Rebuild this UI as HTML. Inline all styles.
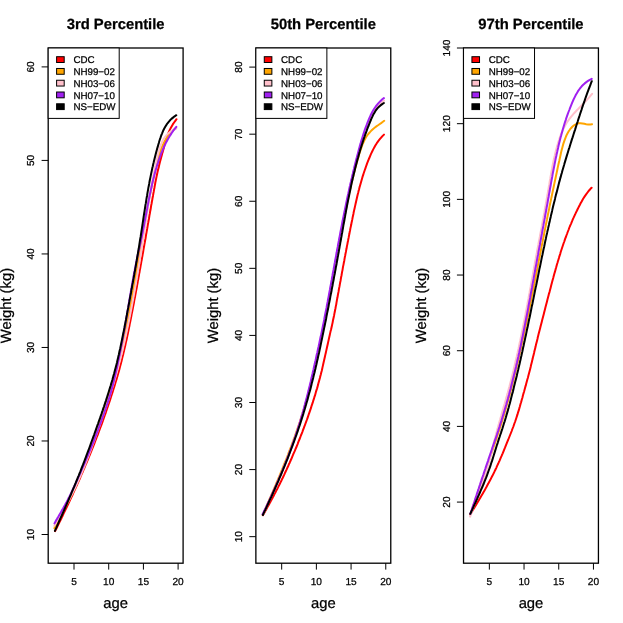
<!DOCTYPE html>
<html><head><meta charset="utf-8"><title>Weight percentiles</title>
<style>html,body{margin:0;padding:0;background:#fff}svg{display:block;will-change:transform}text{font-family:"Liberation Sans",sans-serif;fill:#000;text-rendering:geometricPrecision;stroke:#000;stroke-width:0.25px}</style></head><body>
<svg width="623" height="623" viewBox="0 0 623 623">
<g>
<path d="M55.1 531.1 L56.0 529.4 L56.9 527.6 L57.7 525.8 L58.6 524.1 L59.4 522.3 L60.3 520.5 L61.2 518.7 L62.0 517.0 L62.9 515.2 L63.7 513.4 L64.6 511.6 L65.4 509.8 L66.3 508.1 L67.1 506.3 L68.0 504.5 L68.8 502.7 L69.7 500.9 L70.5 499.1 L71.3 497.3 L72.2 495.5 L73.0 493.7 L73.8 491.9 L74.6 490.1 L75.4 488.3 L76.2 486.5 L77.1 484.7 L77.9 482.9 L78.7 481.1 L79.5 479.3 L80.3 477.5 L81.0 475.7 L81.8 473.8 L82.6 472.0 L83.4 470.2 L84.2 468.4 L84.9 466.6 L85.7 464.7 L86.5 462.9 L87.2 461.1 L88.0 459.3 L88.7 457.4 L89.5 455.6 L90.2 453.8 L91.0 451.9 L91.7 450.1 L92.4 448.3 L93.2 446.4 L93.9 444.6 L94.6 442.8 L95.3 440.9 L96.0 439.1 L96.7 437.2 L97.5 435.4 L98.2 433.5 L98.8 431.7 L99.5 429.9 L100.2 428.0 L100.9 426.1 L101.6 424.3 L102.3 422.4 L102.9 420.6 L103.6 418.7 L104.2 416.9 L104.9 415.0 L105.6 413.1 L106.2 411.3 L106.8 409.4 L107.5 407.5 L108.1 405.7 L108.7 403.8 L109.4 401.9 L110.0 400.1 L110.6 398.2 L111.2 396.3 L111.8 394.4 L112.4 392.6 L113.0 390.7 L113.6 388.8 L114.2 386.9 L114.8 385.0 L115.3 383.2 L115.9 381.3 L116.5 379.4 L117.0 377.5 L117.6 375.6 L118.1 373.7 L118.7 371.8 L119.2 369.9 L119.7 368.0 L120.2 366.1 L120.7 364.2 L121.2 362.3 L121.7 360.4 L122.1 358.5 L122.6 356.6 L123.1 354.7 L123.5 352.8 L124.0 350.9 L124.4 349.0 L124.9 347.1 L125.3 345.2 L125.7 343.3 L126.1 341.4 L126.6 339.5 L127.0 337.5 L127.4 335.6 L127.8 333.7 L128.2 331.8 L128.6 329.9 L129.0 327.9 L129.4 326.0 L129.7 324.1 L130.1 322.2 L130.5 320.2 L130.9 318.3 L131.3 316.4 L131.6 314.4 L132.0 312.5 L132.4 310.6 L132.8 308.6 L133.1 306.7 L133.5 304.8 L133.9 302.8 L134.2 300.9 L134.6 298.9 L135.0 297.0 L135.3 295.1 L135.7 293.1 L136.0 291.2 L136.4 289.2 L136.8 287.3 L137.1 285.3 L137.5 283.4 L137.8 281.4 L138.2 279.5 L138.5 277.5 L138.9 275.6 L139.2 273.6 L139.6 271.7 L139.9 269.7 L140.3 267.8 L140.6 265.8 L141.0 263.9 L141.3 261.9 L141.7 260.0 L142.0 258.0 L142.4 256.1 L142.7 254.1 L143.1 252.2 L143.4 250.2 L143.7 248.3 L144.1 246.3 L144.4 244.4 L144.8 242.4 L145.1 240.5 L145.5 238.5 L145.8 236.5 L146.1 234.6 L146.5 232.6 L146.8 230.7 L147.2 228.7 L147.5 226.8 L147.8 224.9 L148.2 222.9 L148.5 221.0 L148.9 219.0 L149.2 217.1 L149.5 215.1 L149.9 213.2 L150.2 211.2 L150.6 209.3 L150.9 207.3 L151.2 205.4 L151.6 203.5 L151.9 201.5 L152.3 199.6 L152.6 197.7 L153.0 195.7 L153.3 193.8 L153.7 191.9 L154.0 189.9 L154.4 188.0 L154.7 186.1 L155.1 184.1 L155.4 182.2 L155.8 180.3 L156.2 178.4 L156.6 176.4 L157.0 174.5 L157.4 172.6 L157.8 170.7 L158.3 168.8 L158.8 166.9 L159.2 165.0 L159.7 163.1 L160.2 161.1 L160.7 159.2 L161.2 157.3 L161.7 155.4 L162.2 153.5 L162.8 151.6 L163.3 149.8 L163.8 147.9 L164.3 146.0 L164.8 144.1 L165.3 142.2 L165.9 140.4 L166.4 138.5 L167.1 136.7 L167.7 134.8 L168.4 133.0 L169.2 131.2 L170.0 129.4 L170.9 127.7 L171.9 125.9 L172.9 124.2 L174.1 122.5 L175.3 120.8 L176.5 119.2" fill="none" stroke="#ff0000" stroke-width="2" stroke-linecap="round" stroke-linejoin="round"/>
<path d="M54.4 528.2 L55.3 526.5 L56.2 524.8 L57.1 523.1 L57.9 521.3 L58.8 519.6 L59.7 517.9 L60.6 516.2 L61.5 514.5 L62.4 512.8 L63.3 511.0 L64.2 509.3 L65.1 507.6 L66.0 505.8 L66.9 504.1 L67.8 502.4 L68.7 500.6 L69.6 498.9 L70.4 497.1 L71.3 495.4 L72.1 493.6 L72.9 491.9 L73.8 490.1 L74.5 488.4 L75.3 486.6 L76.1 484.9 L76.8 483.1 L77.6 481.3 L78.3 479.6 L79.0 477.8 L79.7 476.0 L80.4 474.3 L81.1 472.5 L81.8 470.7 L82.5 468.9 L83.2 467.2 L83.9 465.4 L84.6 463.6 L85.3 461.8 L86.0 460.0 L86.7 458.2 L87.4 456.4 L88.1 454.6 L88.8 452.8 L89.5 451.0 L90.2 449.2 L90.9 447.4 L91.6 445.6 L92.2 443.8 L92.9 442.0 L93.6 440.2 L94.3 438.4 L94.9 436.6 L95.6 434.8 L96.3 433.0 L96.9 431.1 L97.6 429.3 L98.3 427.5 L98.9 425.7 L99.6 423.9 L100.2 422.0 L100.8 420.2 L101.5 418.4 L102.1 416.5 L102.7 414.7 L103.4 412.9 L104.0 411.0 L104.6 409.2 L105.2 407.4 L105.8 405.5 L106.4 403.7 L107.0 401.8 L107.6 400.0 L108.2 398.2 L108.8 396.3 L109.3 394.5 L109.9 392.6 L110.5 390.8 L111.0 388.9 L111.6 387.1 L112.1 385.2 L112.7 383.4 L113.2 381.5 L113.7 379.6 L114.2 377.8 L114.7 375.9 L115.3 374.1 L115.8 372.2 L116.3 370.3 L116.7 368.5 L117.2 366.6 L117.7 364.7 L118.2 362.9 L118.7 361.0 L119.1 359.1 L119.6 357.3 L120.0 355.4 L120.5 353.5 L120.9 351.7 L121.4 349.8 L121.8 347.9 L122.2 346.0 L122.7 344.1 L123.1 342.3 L123.5 340.4 L123.9 338.5 L124.3 336.6 L124.8 334.8 L125.2 332.9 L125.6 331.0 L125.9 329.1 L126.3 327.2 L126.7 325.3 L127.1 323.5 L127.5 321.6 L127.9 319.7 L128.2 317.8 L128.6 315.9 L129.0 314.0 L129.3 312.1 L129.7 310.2 L130.1 308.3 L130.4 306.5 L130.8 304.6 L131.1 302.7 L131.5 300.8 L131.8 298.9 L132.1 297.0 L132.5 295.1 L132.8 293.2 L133.2 291.3 L133.5 289.4 L133.8 287.5 L134.2 285.6 L134.5 283.7 L134.8 281.8 L135.1 279.9 L135.5 278.0 L135.8 276.1 L136.1 274.2 L136.4 272.3 L136.7 270.4 L137.1 268.5 L137.4 266.6 L137.7 264.8 L138.0 262.9 L138.3 260.9 L138.6 259.0 L139.0 257.1 L139.3 255.2 L139.6 253.3 L139.9 251.4 L140.2 249.5 L140.6 247.6 L140.9 245.7 L141.2 243.8 L141.5 241.9 L141.8 240.0 L142.2 238.1 L142.5 236.2 L142.8 234.3 L143.1 232.4 L143.5 230.5 L143.8 228.6 L144.1 226.7 L144.4 224.8 L144.8 222.9 L145.1 221.0 L145.5 219.1 L145.8 217.2 L146.1 215.3 L146.5 213.4 L146.8 211.5 L147.2 209.6 L147.5 207.7 L147.9 205.8 L148.2 203.9 L148.6 202.0 L149.0 200.0 L149.3 198.1 L149.7 196.2 L150.1 194.3 L150.5 192.4 L150.8 190.5 L151.2 188.6 L151.6 186.7 L152.0 184.8 L152.4 182.9 L152.8 181.0 L153.2 179.1 L153.6 177.2 L154.0 175.3 L154.5 173.4 L154.9 171.5 L155.3 169.6 L155.7 167.7 L156.2 165.8 L156.6 163.9 L157.1 162.0 L157.6 160.1 L158.1 158.3 L158.6 156.4 L159.2 154.6 L159.8 152.7 L160.4 150.9 L161.0 149.1 L161.7 147.4 L162.5 145.7 L163.3 144.0 L164.1 142.3 L165.0 140.6 L166.0 139.0 L167.0 137.5 L168.1 136.0 L169.3 134.5 L170.5 133.1 L171.8 131.7 L173.2 130.3 L174.6 129.1 L176.2 127.8" fill="none" stroke="#ffa500" stroke-width="2" stroke-linecap="round" stroke-linejoin="round"/>
<path d="M54.3 525.8 L55.3 524.1 L56.2 522.5 L57.2 520.8 L58.2 519.1 L59.1 517.5 L60.1 515.8 L61.1 514.1 L62.1 512.4 L63.1 510.7 L64.1 509.0 L65.0 507.3 L66.0 505.6 L66.9 503.9 L67.8 502.2 L68.8 500.5 L69.7 498.8 L70.5 497.0 L71.4 495.3 L72.3 493.6 L73.1 491.9 L74.0 490.1 L74.8 488.4 L75.6 486.7 L76.4 484.9 L77.2 483.2 L78.0 481.4 L78.8 479.7 L79.5 477.9 L80.3 476.2 L81.1 474.4 L81.8 472.7 L82.5 470.9 L83.3 469.1 L84.0 467.4 L84.7 465.6 L85.4 463.8 L86.1 462.0 L86.8 460.3 L87.5 458.5 L88.2 456.7 L88.9 454.9 L89.5 453.1 L90.2 451.3 L90.9 449.6 L91.6 447.8 L92.2 446.0 L92.9 444.2 L93.5 442.4 L94.2 440.6 L94.9 438.8 L95.5 437.0 L96.2 435.2 L96.8 433.4 L97.5 431.5 L98.1 429.7 L98.8 427.9 L99.4 426.1 L100.1 424.3 L100.7 422.5 L101.4 420.7 L102.0 418.8 L102.6 417.0 L103.3 415.2 L103.9 413.4 L104.5 411.5 L105.1 409.7 L105.8 407.9 L106.4 406.1 L107.0 404.2 L107.6 402.4 L108.2 400.6 L108.8 398.7 L109.4 396.9 L110.0 395.0 L110.6 393.2 L111.1 391.4 L111.7 389.5 L112.3 387.7 L112.9 385.8 L113.4 384.0 L114.0 382.1 L114.5 380.3 L115.0 378.4 L115.6 376.6 L116.1 374.7 L116.6 372.9 L117.1 371.0 L117.7 369.1 L118.2 367.3 L118.6 365.4 L119.1 363.6 L119.6 361.7 L120.1 359.8 L120.6 358.0 L121.0 356.1 L121.5 354.2 L122.0 352.4 L122.4 350.5 L122.9 348.6 L123.3 346.8 L123.7 344.9 L124.2 343.0 L124.6 341.2 L125.0 339.3 L125.4 337.4 L125.8 335.5 L126.2 333.7 L126.6 331.8 L127.0 329.9 L127.4 328.0 L127.8 326.1 L128.2 324.3 L128.6 322.4 L129.0 320.5 L129.4 318.6 L129.7 316.7 L130.1 314.8 L130.5 313.0 L130.8 311.1 L131.2 309.2 L131.6 307.3 L131.9 305.4 L132.3 303.5 L132.6 301.6 L133.0 299.8 L133.3 297.9 L133.6 296.0 L134.0 294.1 L134.3 292.2 L134.7 290.3 L135.0 288.4 L135.3 286.5 L135.7 284.6 L136.0 282.7 L136.3 280.8 L136.6 278.9 L137.0 277.0 L137.3 275.1 L137.6 273.3 L137.9 271.4 L138.2 269.5 L138.6 267.6 L138.9 265.7 L139.2 263.8 L139.5 261.9 L139.8 260.0 L140.1 258.1 L140.4 256.2 L140.7 254.3 L141.0 252.4 L141.3 250.5 L141.6 248.6 L141.9 246.7 L142.2 244.8 L142.5 242.9 L142.8 241.0 L143.1 239.1 L143.4 237.2 L143.7 235.3 L144.0 233.4 L144.3 231.5 L144.6 229.6 L144.9 227.7 L145.2 225.8 L145.5 223.9 L145.7 222.0 L146.0 220.1 L146.3 218.2 L146.6 216.3 L146.9 214.4 L147.2 212.5 L147.5 210.6 L147.8 208.7 L148.0 206.8 L148.3 204.9 L148.6 203.0 L148.9 201.1 L149.2 199.2 L149.5 197.3 L149.8 195.4 L150.1 193.5 L150.5 191.6 L150.8 189.7 L151.1 187.8 L151.4 185.9 L151.8 184.0 L152.1 182.1 L152.5 180.2 L152.8 178.3 L153.2 176.4 L153.5 174.5 L153.9 172.6 L154.3 170.7 L154.7 168.8 L155.1 166.9 L155.5 165.0 L155.9 163.1 L156.3 161.2 L156.7 159.3 L157.2 157.4 L157.6 155.5 L158.1 153.7 L158.6 151.8 L159.1 149.9 L159.7 148.1 L160.3 146.3 L161.0 144.5 L161.7 142.8 L162.5 141.1 L163.4 139.4 L164.4 137.8 L165.5 136.3 L166.7 134.9 L168.0 133.6 L169.4 132.4 L171.0 131.3 L172.7 130.3 L174.4 129.5 L176.2 128.7" fill="none" stroke="#ffc0cb" stroke-width="2" stroke-linecap="round" stroke-linejoin="round"/>
<path d="M54.5 523.4 L55.4 521.7 L56.3 520.1 L57.3 518.4 L58.3 516.8 L59.2 515.1 L60.2 513.4 L61.2 511.7 L62.1 510.1 L63.1 508.4 L64.0 506.7 L65.0 505.0 L65.9 503.3 L66.8 501.7 L67.7 500.0 L68.5 498.3 L69.4 496.6 L70.2 494.9 L71.1 493.2 L71.9 491.4 L72.7 489.7 L73.5 488.0 L74.3 486.3 L75.1 484.6 L75.9 482.9 L76.7 481.1 L77.5 479.4 L78.2 477.7 L79.0 475.9 L79.8 474.2 L80.5 472.5 L81.3 470.7 L82.0 469.0 L82.8 467.2 L83.6 465.5 L84.3 463.7 L85.1 462.0 L85.8 460.2 L86.6 458.5 L87.3 456.7 L88.1 455.0 L88.8 453.2 L89.5 451.4 L90.3 449.6 L91.0 447.9 L91.7 446.1 L92.4 444.3 L93.2 442.5 L93.9 440.8 L94.6 439.0 L95.2 437.2 L95.9 435.4 L96.6 433.6 L97.3 431.8 L98.0 430.0 L98.6 428.2 L99.3 426.4 L99.9 424.6 L100.6 422.8 L101.3 421.0 L101.9 419.2 L102.6 417.4 L103.2 415.6 L103.9 413.8 L104.5 412.0 L105.1 410.2 L105.8 408.3 L106.4 406.5 L107.0 404.7 L107.6 402.9 L108.2 401.1 L108.8 399.2 L109.4 397.4 L109.9 395.6 L110.5 393.7 L111.0 391.9 L111.5 390.1 L112.0 388.2 L112.5 386.4 L113.0 384.6 L113.4 382.7 L113.9 380.9 L114.3 379.0 L114.8 377.2 L115.2 375.3 L115.6 373.5 L116.0 371.7 L116.4 369.8 L116.9 367.9 L117.3 366.1 L117.7 364.2 L118.0 362.4 L118.4 360.5 L118.8 358.7 L119.2 356.8 L119.6 355.0 L119.9 353.1 L120.3 351.2 L120.7 349.4 L121.0 347.5 L121.4 345.6 L121.8 343.8 L122.1 341.9 L122.5 340.0 L122.8 338.2 L123.1 336.3 L123.5 334.4 L123.8 332.5 L124.2 330.7 L124.5 328.8 L124.8 326.9 L125.2 325.1 L125.5 323.2 L125.8 321.3 L126.1 319.4 L126.5 317.5 L126.8 315.7 L127.1 313.8 L127.4 311.9 L127.7 310.0 L128.1 308.1 L128.4 306.3 L128.7 304.4 L129.0 302.5 L129.3 300.6 L129.6 298.7 L130.0 296.8 L130.3 295.0 L130.6 293.1 L130.9 291.2 L131.2 289.3 L131.6 287.4 L131.9 285.5 L132.2 283.6 L132.6 281.8 L132.9 279.9 L133.3 278.0 L133.6 276.1 L133.9 274.2 L134.3 272.3 L134.7 270.4 L135.0 268.5 L135.4 266.7 L135.8 264.8 L136.1 262.9 L136.5 261.0 L136.9 259.1 L137.3 257.2 L137.7 255.3 L138.1 253.5 L138.5 251.6 L138.9 249.7 L139.4 247.8 L139.8 245.9 L140.2 244.0 L140.6 242.2 L141.0 240.3 L141.4 238.4 L141.8 236.5 L142.2 234.6 L142.6 232.8 L142.9 230.9 L143.3 229.0 L143.7 227.1 L144.0 225.3 L144.4 223.4 L144.7 221.5 L145.1 219.6 L145.4 217.8 L145.8 215.9 L146.1 214.0 L146.5 212.2 L146.8 210.3 L147.2 208.4 L147.5 206.6 L147.9 204.7 L148.2 202.9 L148.6 201.0 L149.0 199.1 L149.3 197.3 L149.7 195.4 L150.1 193.6 L150.5 191.7 L150.9 189.9 L151.3 188.0 L151.7 186.2 L152.1 184.3 L152.5 182.5 L153.0 180.6 L153.4 178.8 L153.9 177.0 L154.3 175.1 L154.8 173.3 L155.3 171.4 L155.8 169.6 L156.4 167.8 L156.9 166.0 L157.5 164.1 L158.1 162.3 L158.6 160.5 L159.3 158.7 L159.9 156.9 L160.6 155.1 L161.2 153.3 L162.0 151.5 L162.7 149.8 L163.5 148.0 L164.2 146.3 L165.1 144.6 L165.9 142.9 L166.8 141.2 L167.7 139.5 L168.7 137.8 L169.6 136.2 L170.7 134.6 L171.7 133.0 L172.8 131.4 L173.9 129.8 L175.1 128.3 L176.3 126.8" fill="none" stroke="#a020f0" stroke-width="2" stroke-linecap="round" stroke-linejoin="round"/>
<path d="M54.9 530.9 L55.7 529.1 L56.5 527.3 L57.3 525.5 L58.1 523.6 L58.9 521.8 L59.7 520.0 L60.5 518.1 L61.4 516.3 L62.2 514.5 L63.0 512.6 L63.8 510.8 L64.6 509.0 L65.4 507.1 L66.2 505.3 L67.0 503.5 L67.8 501.6 L68.6 499.8 L69.4 497.9 L70.2 496.1 L71.0 494.3 L71.7 492.4 L72.5 490.6 L73.3 488.7 L74.1 486.9 L74.8 485.1 L75.6 483.2 L76.3 481.4 L77.1 479.5 L77.8 477.7 L78.6 475.8 L79.3 474.0 L80.1 472.1 L80.8 470.3 L81.5 468.4 L82.2 466.6 L83.0 464.7 L83.7 462.8 L84.4 461.0 L85.1 459.1 L85.8 457.3 L86.5 455.4 L87.2 453.5 L87.9 451.7 L88.6 449.8 L89.3 448.0 L90.0 446.1 L90.7 444.2 L91.3 442.3 L92.0 440.5 L92.7 438.6 L93.4 436.7 L94.1 434.8 L94.7 433.0 L95.4 431.1 L96.1 429.2 L96.7 427.3 L97.4 425.4 L98.1 423.6 L98.7 421.7 L99.4 419.8 L100.1 417.9 L100.7 416.0 L101.4 414.1 L102.0 412.2 L102.7 410.3 L103.3 408.4 L104.0 406.5 L104.6 404.6 L105.2 402.7 L105.9 400.8 L106.5 398.9 L107.1 397.0 L107.7 395.1 L108.3 393.2 L108.9 391.3 L109.5 389.3 L110.1 387.4 L110.7 385.5 L111.2 383.6 L111.8 381.7 L112.4 379.8 L112.9 377.8 L113.4 375.9 L114.0 374.0 L114.5 372.1 L115.0 370.1 L115.5 368.2 L116.0 366.3 L116.5 364.4 L117.0 362.4 L117.4 360.5 L117.9 358.6 L118.3 356.6 L118.8 354.7 L119.2 352.8 L119.6 350.8 L120.1 348.9 L120.5 346.9 L120.9 345.0 L121.3 343.0 L121.7 341.1 L122.1 339.2 L122.5 337.2 L122.9 335.3 L123.3 333.3 L123.7 331.4 L124.1 329.4 L124.5 327.5 L124.8 325.5 L125.2 323.6 L125.6 321.6 L126.0 319.7 L126.3 317.7 L126.7 315.7 L127.1 313.8 L127.4 311.8 L127.8 309.9 L128.2 307.9 L128.5 306.0 L128.9 304.0 L129.3 302.0 L129.6 300.1 L130.0 298.1 L130.3 296.1 L130.7 294.2 L131.1 292.2 L131.4 290.3 L131.8 288.3 L132.1 286.3 L132.5 284.4 L132.9 282.4 L133.2 280.4 L133.6 278.4 L133.9 276.5 L134.3 274.5 L134.6 272.5 L135.0 270.6 L135.3 268.6 L135.7 266.6 L136.0 264.6 L136.3 262.7 L136.7 260.7 L137.0 258.7 L137.3 256.7 L137.7 254.8 L138.0 252.8 L138.3 250.8 L138.7 248.8 L139.0 246.9 L139.3 244.9 L139.6 242.9 L139.9 240.9 L140.2 239.0 L140.6 237.0 L140.9 235.0 L141.2 233.0 L141.5 231.0 L141.8 229.1 L142.1 227.1 L142.4 225.1 L142.7 223.1 L143.0 221.2 L143.3 219.2 L143.6 217.2 L143.9 215.2 L144.2 213.2 L144.5 211.3 L144.8 209.3 L145.1 207.3 L145.4 205.3 L145.8 203.4 L146.1 201.4 L146.4 199.4 L146.7 197.5 L147.1 195.5 L147.4 193.5 L147.7 191.6 L148.1 189.6 L148.4 187.6 L148.8 185.7 L149.2 183.7 L149.5 181.8 L149.9 179.8 L150.3 177.9 L150.7 175.9 L151.1 173.9 L151.5 172.0 L151.9 170.1 L152.3 168.1 L152.8 166.2 L153.2 164.2 L153.7 162.3 L154.1 160.4 L154.6 158.4 L155.1 156.5 L155.6 154.6 L156.1 152.6 L156.6 150.7 L157.1 148.8 L157.7 146.9 L158.2 145.0 L158.8 143.1 L159.3 141.2 L159.9 139.3 L160.6 137.4 L161.2 135.5 L162.0 133.6 L162.7 131.8 L163.5 130.0 L164.4 128.3 L165.4 126.6 L166.4 124.9 L167.5 123.3 L168.7 121.8 L170.0 120.3 L171.4 118.9 L173.0 117.6 L174.6 116.3 L176.3 115.2" fill="none" stroke="#000000" stroke-width="2" stroke-linecap="round" stroke-linejoin="round"/>
<rect x="48.20" y="48.00" width="134.90" height="515.20" fill="none" stroke="#000" stroke-width="1.3"/>
<line x1="74.01" y1="563.20" x2="74.01" y2="569.60" stroke="#000" stroke-width="1"/>
<text x="74.01" y="584.8" font-size="10.15" text-anchor="middle">5</text>
<line x1="108.71" y1="563.20" x2="108.71" y2="569.60" stroke="#000" stroke-width="1"/>
<text x="108.71" y="584.8" font-size="10.15" text-anchor="middle">10</text>
<line x1="143.41" y1="563.20" x2="143.41" y2="569.60" stroke="#000" stroke-width="1"/>
<text x="143.41" y="584.8" font-size="10.15" text-anchor="middle">15</text>
<line x1="178.10" y1="563.20" x2="178.10" y2="569.60" stroke="#000" stroke-width="1"/>
<text x="178.10" y="584.8" font-size="10.15" text-anchor="middle">20</text>
<line x1="41.60" y1="534.50" x2="48.20" y2="534.50" stroke="#000" stroke-width="1"/>
<text transform="translate(34.30 534.50) rotate(-90)" font-size="10.15" text-anchor="middle">10</text>
<line x1="41.60" y1="440.98" x2="48.20" y2="440.98" stroke="#000" stroke-width="1"/>
<text transform="translate(34.30 440.98) rotate(-90)" font-size="10.15" text-anchor="middle">20</text>
<line x1="41.60" y1="347.46" x2="48.20" y2="347.46" stroke="#000" stroke-width="1"/>
<text transform="translate(34.30 347.46) rotate(-90)" font-size="10.15" text-anchor="middle">30</text>
<line x1="41.60" y1="253.94" x2="48.20" y2="253.94" stroke="#000" stroke-width="1"/>
<text transform="translate(34.30 253.94) rotate(-90)" font-size="10.15" text-anchor="middle">40</text>
<line x1="41.60" y1="160.42" x2="48.20" y2="160.42" stroke="#000" stroke-width="1"/>
<text transform="translate(34.30 160.42) rotate(-90)" font-size="10.15" text-anchor="middle">50</text>
<line x1="41.60" y1="66.90" x2="48.20" y2="66.90" stroke="#000" stroke-width="1"/>
<text transform="translate(34.30 66.90) rotate(-90)" font-size="10.15" text-anchor="middle">60</text>
<text x="115.65" y="608.1" font-size="14.8" text-anchor="middle">age</text>
<text transform="translate(10.70 305.60) rotate(-90)" font-size="14.8" text-anchor="middle">Weight (kg)</text>
<text x="115.65" y="29.1" font-size="14.8" font-weight="bold" text-anchor="middle">3rd Percentile</text>
<rect x="48.20" y="48.00" width="71" height="70.4" fill="#fff" stroke="#000" stroke-width="1"/>
<rect x="56.60" y="56.70" width="7.6" height="5.8" fill="#ff0000" stroke="#000" stroke-width="1"/>
<text x="73.40" y="63.40" font-size="9.75">CDC</text>
<rect x="56.60" y="68.47" width="7.6" height="5.8" fill="#ffa500" stroke="#000" stroke-width="1"/>
<text x="73.40" y="75.17" font-size="9.75">NH99−02</text>
<rect x="56.60" y="80.24" width="7.6" height="5.8" fill="#ffc0cb" stroke="#000" stroke-width="1"/>
<text x="73.40" y="86.94" font-size="9.75">NH03−06</text>
<rect x="56.60" y="92.01" width="7.6" height="5.8" fill="#a020f0" stroke="#000" stroke-width="1"/>
<text x="73.40" y="98.71" font-size="9.75">NH07−10</text>
<rect x="56.60" y="103.78" width="7.6" height="5.8" fill="#000000" stroke="#000" stroke-width="1"/>
<text x="73.40" y="110.48" font-size="9.75">NS−EDW</text>
</g>
<g>
<path d="M262.9 515.1 L263.9 513.5 L264.8 511.9 L265.7 510.3 L266.6 508.7 L267.5 507.1 L268.4 505.5 L269.3 503.9 L270.2 502.2 L271.1 500.6 L271.9 499.0 L272.8 497.4 L273.7 495.7 L274.5 494.1 L275.4 492.5 L276.2 490.8 L277.1 489.2 L277.9 487.6 L278.7 485.9 L279.6 484.3 L280.4 482.6 L281.2 481.0 L282.0 479.3 L282.8 477.7 L283.6 476.0 L284.4 474.4 L285.1 472.7 L285.9 471.0 L286.7 469.4 L287.4 467.7 L288.2 466.0 L288.9 464.3 L289.7 462.7 L290.4 461.0 L291.2 459.3 L291.9 457.6 L292.6 455.9 L293.3 454.2 L294.0 452.6 L294.8 450.9 L295.5 449.2 L296.2 447.5 L296.9 445.8 L297.6 444.1 L298.2 442.4 L298.9 440.7 L299.6 439.0 L300.3 437.2 L300.9 435.5 L301.6 433.8 L302.3 432.1 L302.9 430.4 L303.6 428.7 L304.2 426.9 L304.9 425.2 L305.5 423.5 L306.1 421.8 L306.8 420.0 L307.4 418.3 L308.0 416.6 L308.6 414.8 L309.2 413.1 L309.8 411.4 L310.4 409.6 L311.0 407.9 L311.5 406.1 L312.1 404.4 L312.7 402.7 L313.2 400.9 L313.8 399.2 L314.3 397.4 L314.9 395.7 L315.4 393.9 L315.9 392.1 L316.4 390.4 L317.0 388.6 L317.5 386.9 L318.0 385.1 L318.4 383.3 L318.9 381.6 L319.4 379.8 L319.9 378.0 L320.3 376.3 L320.8 374.5 L321.2 372.7 L321.7 371.0 L322.1 369.2 L322.5 367.4 L322.9 365.6 L323.3 363.8 L323.7 362.1 L324.1 360.3 L324.5 358.5 L324.9 356.7 L325.3 354.9 L325.7 353.2 L326.1 351.4 L326.5 349.6 L326.9 347.8 L327.3 346.0 L327.7 344.2 L328.1 342.4 L328.5 340.6 L328.9 338.8 L329.3 337.0 L329.7 335.2 L330.1 333.4 L330.5 331.6 L331.0 329.8 L331.4 328.0 L331.8 326.2 L332.2 324.4 L332.6 322.6 L332.9 320.8 L333.3 319.0 L333.7 317.2 L334.1 315.4 L334.4 313.6 L334.8 311.8 L335.1 310.0 L335.5 308.2 L335.8 306.4 L336.2 304.6 L336.5 302.7 L336.8 300.9 L337.1 299.1 L337.5 297.3 L337.8 295.5 L338.1 293.7 L338.5 291.9 L338.8 290.0 L339.1 288.2 L339.5 286.4 L339.8 284.6 L340.1 282.8 L340.5 281.0 L340.8 279.1 L341.1 277.3 L341.5 275.5 L341.8 273.7 L342.1 271.9 L342.5 270.1 L342.8 268.2 L343.1 266.4 L343.5 264.6 L343.8 262.8 L344.2 261.0 L344.5 259.1 L344.8 257.3 L345.2 255.5 L345.5 253.7 L345.9 251.9 L346.2 250.1 L346.6 248.3 L346.9 246.4 L347.3 244.6 L347.6 242.8 L348.0 241.0 L348.3 239.2 L348.7 237.4 L349.0 235.6 L349.4 233.8 L349.7 232.0 L350.1 230.2 L350.4 228.4 L350.8 226.6 L351.2 224.8 L351.5 223.0 L351.9 221.2 L352.3 219.4 L352.6 217.6 L353.0 215.8 L353.4 214.0 L353.7 212.2 L354.1 210.4 L354.5 208.7 L354.9 206.9 L355.3 205.1 L355.7 203.3 L356.1 201.5 L356.5 199.8 L356.9 198.0 L357.3 196.2 L357.7 194.5 L358.2 192.7 L358.6 190.9 L359.1 189.2 L359.5 187.4 L360.0 185.7 L360.5 183.9 L361.0 182.2 L361.5 180.4 L362.0 178.7 L362.5 176.9 L363.1 175.2 L363.6 173.5 L364.2 171.7 L364.8 170.0 L365.4 168.3 L366.0 166.5 L366.6 164.8 L367.2 163.1 L367.9 161.4 L368.6 159.7 L369.3 158.0 L370.0 156.3 L370.7 154.6 L371.5 152.9 L372.3 151.2 L373.1 149.6 L374.0 147.9 L374.9 146.3 L375.8 144.7 L376.8 143.2 L377.9 141.7 L379.0 140.2 L380.2 138.7 L381.4 137.3 L382.7 135.9 L384.0 134.6" fill="none" stroke="#ff0000" stroke-width="2" stroke-linecap="round" stroke-linejoin="round"/>
<path d="M262.7 514.8 L263.5 513.1 L264.2 511.4 L265.0 509.6 L265.8 507.9 L266.5 506.2 L267.3 504.4 L268.0 502.7 L268.8 500.9 L269.5 499.2 L270.3 497.4 L271.1 495.7 L271.8 493.9 L272.6 492.2 L273.3 490.4 L274.1 488.7 L274.8 486.9 L275.6 485.2 L276.3 483.4 L277.0 481.7 L277.8 479.9 L278.5 478.1 L279.3 476.4 L280.0 474.6 L280.7 472.8 L281.4 471.0 L282.2 469.3 L282.9 467.5 L283.6 465.7 L284.3 463.9 L285.0 462.1 L285.8 460.4 L286.5 458.6 L287.2 456.8 L287.9 455.0 L288.5 453.2 L289.2 451.4 L289.9 449.6 L290.6 447.8 L291.3 446.0 L292.0 444.2 L292.6 442.4 L293.3 440.6 L293.9 438.8 L294.6 437.0 L295.2 435.2 L295.9 433.4 L296.5 431.6 L297.1 429.8 L297.7 428.0 L298.4 426.2 L299.0 424.4 L299.6 422.6 L300.2 420.7 L300.8 418.9 L301.3 417.1 L301.9 415.3 L302.5 413.5 L303.1 411.6 L303.6 409.8 L304.2 408.0 L304.7 406.2 L305.2 404.3 L305.8 402.5 L306.3 400.7 L306.8 398.9 L307.3 397.0 L307.8 395.2 L308.3 393.4 L308.8 391.5 L309.3 389.7 L309.8 387.8 L310.3 386.0 L310.8 384.2 L311.3 382.3 L311.7 380.5 L312.2 378.6 L312.6 376.8 L313.1 375.0 L313.6 373.1 L314.0 371.3 L314.4 369.4 L314.9 367.6 L315.3 365.7 L315.7 363.9 L316.2 362.0 L316.6 360.2 L317.0 358.3 L317.4 356.5 L317.8 354.6 L318.2 352.7 L318.6 350.9 L319.1 349.0 L319.5 347.2 L319.8 345.3 L320.2 343.5 L320.6 341.6 L321.0 339.7 L321.4 337.9 L321.8 336.0 L322.2 334.2 L322.6 332.3 L322.9 330.4 L323.3 328.6 L323.7 326.7 L324.1 324.8 L324.4 323.0 L324.8 321.1 L325.2 319.2 L325.5 317.4 L325.9 315.5 L326.3 313.6 L326.6 311.8 L327.0 309.9 L327.4 308.0 L327.7 306.2 L328.1 304.3 L328.4 302.4 L328.8 300.5 L329.1 298.7 L329.5 296.8 L329.8 294.9 L330.2 293.1 L330.6 291.2 L330.9 289.3 L331.3 287.4 L331.6 285.6 L332.0 283.7 L332.3 281.8 L332.7 279.9 L333.0 278.1 L333.3 276.2 L333.7 274.3 L334.0 272.4 L334.4 270.6 L334.7 268.7 L335.1 266.8 L335.4 264.9 L335.8 263.1 L336.1 261.2 L336.5 259.3 L336.8 257.4 L337.1 255.5 L337.5 253.7 L337.8 251.8 L338.2 249.9 L338.5 248.0 L338.9 246.2 L339.2 244.3 L339.6 242.4 L339.9 240.5 L340.2 238.7 L340.6 236.8 L340.9 234.9 L341.3 233.0 L341.6 231.2 L342.0 229.3 L342.3 227.4 L342.7 225.5 L343.0 223.7 L343.4 221.8 L343.8 219.9 L344.1 218.0 L344.5 216.2 L344.9 214.3 L345.2 212.4 L345.6 210.5 L346.0 208.7 L346.4 206.8 L346.7 204.9 L347.1 203.1 L347.5 201.2 L347.9 199.3 L348.3 197.5 L348.7 195.6 L349.1 193.7 L349.5 191.9 L349.9 190.0 L350.4 188.2 L350.8 186.3 L351.2 184.4 L351.7 182.6 L352.1 180.7 L352.6 178.9 L353.0 177.0 L353.5 175.2 L354.0 173.3 L354.4 171.4 L354.9 169.6 L355.4 167.7 L355.9 165.9 L356.4 164.0 L356.9 162.2 L357.4 160.4 L358.0 158.5 L358.5 156.7 L359.0 154.8 L359.6 153.0 L360.2 151.2 L360.8 149.4 L361.4 147.6 L362.0 145.8 L362.7 144.0 L363.5 142.3 L364.3 140.6 L365.1 138.9 L366.0 137.3 L367.0 135.8 L368.1 134.2 L369.4 132.8 L370.6 131.4 L372.0 130.0 L373.4 128.7 L374.9 127.5 L376.4 126.4 L378.0 125.3 L379.5 124.2 L381.1 123.1 L382.6 122.0 L384.2 120.8" fill="none" stroke="#ffa500" stroke-width="2" stroke-linecap="round" stroke-linejoin="round"/>
<path d="M262.8 514.6 L263.7 512.8 L264.5 511.0 L265.4 509.2 L266.2 507.4 L267.1 505.7 L267.9 503.9 L268.7 502.1 L269.6 500.2 L270.4 498.4 L271.2 496.6 L272.0 494.8 L272.9 493.0 L273.7 491.2 L274.5 489.4 L275.3 487.5 L276.1 485.7 L276.9 483.9 L277.7 482.1 L278.4 480.2 L279.2 478.4 L280.0 476.6 L280.8 474.7 L281.5 472.9 L282.3 471.1 L283.0 469.2 L283.8 467.4 L284.5 465.5 L285.3 463.7 L286.0 461.8 L286.7 460.0 L287.4 458.1 L288.2 456.3 L288.9 454.4 L289.6 452.6 L290.3 450.7 L291.0 448.8 L291.7 447.0 L292.3 445.1 L293.0 443.2 L293.7 441.4 L294.3 439.5 L295.0 437.6 L295.7 435.7 L296.3 433.9 L296.9 432.0 L297.6 430.1 L298.2 428.2 L298.8 426.3 L299.4 424.5 L300.0 422.6 L300.6 420.7 L301.2 418.8 L301.8 416.9 L302.4 415.0 L302.9 413.1 L303.5 411.2 L304.0 409.3 L304.6 407.4 L305.1 405.5 L305.7 403.6 L306.2 401.7 L306.7 399.8 L307.2 397.9 L307.8 396.0 L308.3 394.1 L308.8 392.2 L309.3 390.3 L309.7 388.3 L310.2 386.4 L310.7 384.5 L311.2 382.6 L311.7 380.7 L312.1 378.8 L312.6 376.8 L313.0 374.9 L313.5 373.0 L313.9 371.1 L314.4 369.1 L314.8 367.2 L315.3 365.3 L315.7 363.4 L316.1 361.4 L316.6 359.5 L317.0 357.6 L317.4 355.6 L317.8 353.7 L318.2 351.8 L318.6 349.8 L319.1 347.9 L319.5 346.0 L319.9 344.0 L320.3 342.1 L320.7 340.1 L321.1 338.2 L321.4 336.3 L321.8 334.3 L322.2 332.4 L322.6 330.4 L323.0 328.5 L323.4 326.5 L323.8 324.6 L324.2 322.7 L324.5 320.7 L324.9 318.8 L325.3 316.8 L325.7 314.9 L326.1 312.9 L326.4 311.0 L326.8 309.0 L327.2 307.1 L327.6 305.1 L328.0 303.2 L328.3 301.2 L328.7 299.2 L329.1 297.3 L329.4 295.3 L329.8 293.4 L330.2 291.4 L330.6 289.5 L330.9 287.5 L331.3 285.6 L331.7 283.6 L332.0 281.6 L332.4 279.7 L332.8 277.7 L333.1 275.8 L333.5 273.8 L333.9 271.9 L334.2 269.9 L334.6 267.9 L335.0 266.0 L335.3 264.0 L335.7 262.1 L336.1 260.1 L336.4 258.1 L336.8 256.2 L337.1 254.2 L337.5 252.3 L337.9 250.3 L338.2 248.3 L338.6 246.4 L338.9 244.4 L339.3 242.5 L339.7 240.5 L340.0 238.5 L340.4 236.6 L340.8 234.6 L341.1 232.7 L341.5 230.7 L341.8 228.7 L342.2 226.8 L342.6 224.8 L342.9 222.9 L343.3 220.9 L343.7 219.0 L344.0 217.0 L344.4 215.1 L344.8 213.1 L345.2 211.2 L345.6 209.2 L345.9 207.3 L346.3 205.3 L346.7 203.4 L347.1 201.4 L347.5 199.5 L347.9 197.5 L348.3 195.6 L348.7 193.6 L349.1 191.7 L349.5 189.8 L350.0 187.8 L350.4 185.9 L350.8 184.0 L351.2 182.0 L351.7 180.1 L352.1 178.2 L352.6 176.3 L353.0 174.3 L353.5 172.4 L353.9 170.5 L354.4 168.6 L354.9 166.7 L355.4 164.8 L355.8 162.9 L356.3 161.0 L356.8 159.1 L357.3 157.2 L357.9 155.3 L358.4 153.4 L358.9 151.5 L359.4 149.6 L360.0 147.7 L360.6 145.8 L361.1 143.9 L361.7 142.1 L362.3 140.2 L362.9 138.3 L363.5 136.5 L364.2 134.6 L364.8 132.7 L365.5 130.9 L366.2 129.0 L366.9 127.2 L367.6 125.3 L368.4 123.5 L369.2 121.7 L370.0 119.8 L370.8 118.0 L371.6 116.2 L372.5 114.4 L373.5 112.6 L374.5 110.9 L375.6 109.2 L376.7 107.6 L378.0 106.0 L379.3 104.6 L380.8 103.2 L382.3 101.9 L384.0 100.7" fill="none" stroke="#ffc0cb" stroke-width="2" stroke-linecap="round" stroke-linejoin="round"/>
<path d="M262.6 514.3 L263.5 512.5 L264.3 510.7 L265.2 508.9 L266.1 507.1 L266.9 505.3 L267.8 503.5 L268.6 501.7 L269.5 499.9 L270.3 498.1 L271.1 496.3 L272.0 494.4 L272.8 492.6 L273.7 490.8 L274.5 489.0 L275.3 487.1 L276.1 485.3 L276.9 483.5 L277.7 481.6 L278.5 479.8 L279.3 477.9 L280.1 476.1 L280.9 474.2 L281.7 472.4 L282.5 470.6 L283.2 468.7 L284.0 466.8 L284.7 465.0 L285.5 463.1 L286.2 461.3 L286.9 459.4 L287.7 457.5 L288.4 455.7 L289.1 453.8 L289.8 451.9 L290.5 450.1 L291.2 448.2 L291.9 446.3 L292.5 444.4 L293.2 442.5 L293.9 440.7 L294.5 438.8 L295.2 436.9 L295.8 435.0 L296.4 433.1 L297.1 431.2 L297.7 429.3 L298.3 427.4 L298.9 425.5 L299.5 423.6 L300.1 421.7 L300.6 419.8 L301.2 417.9 L301.7 416.0 L302.3 414.1 L302.8 412.2 L303.4 410.3 L303.9 408.4 L304.4 406.5 L304.9 404.6 L305.4 402.6 L305.9 400.7 L306.4 398.8 L306.9 396.9 L307.4 395.0 L307.9 393.0 L308.4 391.1 L308.8 389.2 L309.3 387.3 L309.8 385.3 L310.2 383.4 L310.7 381.5 L311.1 379.6 L311.6 377.6 L312.0 375.7 L312.5 373.8 L312.9 371.8 L313.4 369.9 L313.8 367.9 L314.2 366.0 L314.7 364.1 L315.1 362.1 L315.6 360.2 L316.0 358.2 L316.4 356.3 L316.8 354.3 L317.3 352.4 L317.7 350.4 L318.1 348.5 L318.6 346.5 L319.0 344.6 L319.4 342.6 L319.8 340.7 L320.2 338.7 L320.6 336.8 L321.1 334.8 L321.5 332.9 L321.9 330.9 L322.3 329.0 L322.7 327.0 L323.1 325.0 L323.5 323.1 L323.9 321.1 L324.3 319.2 L324.6 317.2 L325.0 315.2 L325.4 313.3 L325.8 311.3 L326.2 309.4 L326.6 307.4 L326.9 305.4 L327.3 303.5 L327.7 301.5 L328.0 299.5 L328.4 297.6 L328.8 295.6 L329.1 293.6 L329.5 291.7 L329.9 289.7 L330.2 287.7 L330.6 285.8 L331.0 283.8 L331.3 281.8 L331.7 279.9 L332.0 277.9 L332.4 275.9 L332.7 274.0 L333.1 272.0 L333.5 270.0 L333.8 268.1 L334.2 266.1 L334.5 264.1 L334.9 262.2 L335.2 260.2 L335.6 258.2 L336.0 256.3 L336.3 254.3 L336.7 252.3 L337.0 250.3 L337.4 248.4 L337.8 246.4 L338.1 244.4 L338.5 242.5 L338.9 240.5 L339.2 238.5 L339.6 236.6 L340.0 234.6 L340.3 232.6 L340.7 230.7 L341.1 228.7 L341.5 226.7 L341.9 224.8 L342.2 222.8 L342.6 220.8 L343.0 218.9 L343.4 216.9 L343.8 215.0 L344.2 213.0 L344.6 211.0 L345.0 209.1 L345.4 207.1 L345.8 205.2 L346.2 203.2 L346.6 201.3 L347.0 199.3 L347.4 197.4 L347.8 195.4 L348.3 193.5 L348.7 191.5 L349.1 189.6 L349.5 187.6 L350.0 185.7 L350.4 183.7 L350.9 181.8 L351.3 179.8 L351.8 177.9 L352.2 176.0 L352.7 174.0 L353.1 172.1 L353.6 170.2 L354.1 168.2 L354.5 166.3 L355.0 164.4 L355.5 162.5 L356.0 160.5 L356.5 158.6 L357.0 156.7 L357.5 154.8 L358.0 152.9 L358.5 151.0 L359.0 149.1 L359.5 147.2 L360.0 145.3 L360.6 143.4 L361.1 141.5 L361.7 139.6 L362.3 137.7 L362.9 135.8 L363.5 133.9 L364.1 132.0 L364.7 130.1 L365.4 128.2 L366.1 126.4 L366.8 124.5 L367.5 122.6 L368.2 120.8 L369.0 118.9 L369.8 117.1 L370.6 115.3 L371.5 113.5 L372.4 111.7 L373.4 110.0 L374.5 108.3 L375.6 106.7 L376.8 105.1 L378.0 103.6 L379.4 102.1 L380.8 100.7 L382.3 99.3 L383.9 98.1" fill="none" stroke="#a020f0" stroke-width="2" stroke-linecap="round" stroke-linejoin="round"/>
<path d="M262.9 515.0 L263.7 513.2 L264.5 511.4 L265.4 509.7 L266.2 507.9 L267.0 506.1 L267.9 504.3 L268.7 502.5 L269.5 500.7 L270.3 498.9 L271.2 497.1 L272.0 495.3 L272.8 493.5 L273.6 491.7 L274.4 489.9 L275.2 488.0 L276.0 486.2 L276.8 484.4 L277.6 482.6 L278.4 480.8 L279.1 478.9 L279.9 477.1 L280.7 475.3 L281.5 473.5 L282.2 471.6 L283.0 469.8 L283.7 468.0 L284.5 466.1 L285.2 464.3 L286.0 462.4 L286.7 460.6 L287.5 458.8 L288.2 456.9 L288.9 455.1 L289.6 453.2 L290.3 451.4 L291.0 449.5 L291.7 447.7 L292.4 445.8 L293.1 443.9 L293.8 442.1 L294.5 440.2 L295.1 438.4 L295.8 436.5 L296.5 434.6 L297.1 432.8 L297.8 430.9 L298.4 429.0 L299.0 427.1 L299.7 425.3 L300.3 423.4 L300.9 421.5 L301.5 419.6 L302.1 417.8 L302.7 415.9 L303.3 414.0 L303.8 412.1 L304.4 410.2 L305.0 408.3 L305.5 406.4 L306.1 404.5 L306.6 402.6 L307.2 400.8 L307.7 398.9 L308.2 397.0 L308.7 395.1 L309.2 393.2 L309.8 391.3 L310.3 389.4 L310.8 387.5 L311.3 385.6 L311.7 383.6 L312.2 381.7 L312.7 379.8 L313.2 377.9 L313.6 376.0 L314.1 374.1 L314.6 372.2 L315.0 370.3 L315.5 368.4 L315.9 366.4 L316.4 364.5 L316.8 362.6 L317.2 360.7 L317.7 358.8 L318.1 356.8 L318.5 354.9 L319.0 353.0 L319.4 351.1 L319.8 349.1 L320.2 347.2 L320.6 345.3 L321.0 343.4 L321.4 341.4 L321.8 339.5 L322.2 337.6 L322.6 335.6 L323.0 333.7 L323.4 331.8 L323.8 329.8 L324.2 327.9 L324.6 326.0 L325.0 324.0 L325.4 322.1 L325.8 320.2 L326.2 318.2 L326.5 316.3 L326.9 314.3 L327.3 312.4 L327.7 310.5 L328.1 308.5 L328.5 306.6 L328.8 304.6 L329.2 302.7 L329.6 300.8 L330.0 298.8 L330.3 296.9 L330.7 294.9 L331.1 293.0 L331.5 291.0 L331.8 289.1 L332.2 287.1 L332.6 285.2 L332.9 283.2 L333.3 281.3 L333.7 279.3 L334.0 277.4 L334.4 275.4 L334.8 273.5 L335.1 271.5 L335.5 269.6 L335.8 267.6 L336.2 265.7 L336.6 263.7 L336.9 261.8 L337.3 259.8 L337.6 257.9 L338.0 255.9 L338.3 254.0 L338.7 252.0 L339.0 250.1 L339.4 248.1 L339.7 246.1 L340.1 244.2 L340.4 242.2 L340.8 240.3 L341.1 238.3 L341.5 236.4 L341.8 234.4 L342.2 232.5 L342.5 230.5 L342.9 228.6 L343.2 226.6 L343.5 224.7 L343.9 222.7 L344.3 220.8 L344.6 218.8 L345.0 216.9 L345.3 214.9 L345.7 213.0 L346.0 211.0 L346.4 209.1 L346.8 207.1 L347.1 205.2 L347.5 203.2 L347.9 201.3 L348.3 199.4 L348.7 197.4 L349.1 195.5 L349.5 193.6 L349.9 191.6 L350.3 189.7 L350.7 187.8 L351.1 185.8 L351.5 183.9 L351.9 182.0 L352.4 180.1 L352.8 178.1 L353.3 176.2 L353.7 174.3 L354.2 172.4 L354.7 170.5 L355.1 168.6 L355.6 166.7 L356.1 164.8 L356.6 162.9 L357.1 161.0 L357.6 159.1 L358.2 157.2 L358.7 155.3 L359.2 153.4 L359.8 151.5 L360.3 149.6 L360.9 147.7 L361.5 145.9 L362.1 144.0 L362.7 142.1 L363.3 140.3 L363.9 138.4 L364.6 136.5 L365.2 134.7 L365.9 132.8 L366.6 131.0 L367.2 129.1 L367.9 127.3 L368.7 125.5 L369.4 123.6 L370.1 121.8 L370.9 120.0 L371.6 118.2 L372.5 116.4 L373.3 114.6 L374.3 112.9 L375.3 111.2 L376.4 109.7 L377.6 108.1 L379.0 106.7 L380.5 105.4 L382.2 104.1 L383.9 103.0" fill="none" stroke="#000000" stroke-width="2" stroke-linecap="round" stroke-linejoin="round"/>
<rect x="255.87" y="48.00" width="134.90" height="515.20" fill="none" stroke="#000" stroke-width="1.3"/>
<line x1="281.68" y1="563.20" x2="281.68" y2="569.60" stroke="#000" stroke-width="1"/>
<text x="281.68" y="584.8" font-size="10.15" text-anchor="middle">5</text>
<line x1="316.38" y1="563.20" x2="316.38" y2="569.60" stroke="#000" stroke-width="1"/>
<text x="316.38" y="584.8" font-size="10.15" text-anchor="middle">10</text>
<line x1="351.07" y1="563.20" x2="351.07" y2="569.60" stroke="#000" stroke-width="1"/>
<text x="351.07" y="584.8" font-size="10.15" text-anchor="middle">15</text>
<line x1="385.77" y1="563.20" x2="385.77" y2="569.60" stroke="#000" stroke-width="1"/>
<text x="385.77" y="584.8" font-size="10.15" text-anchor="middle">20</text>
<line x1="249.27" y1="536.66" x2="255.87" y2="536.66" stroke="#000" stroke-width="1"/>
<text transform="translate(241.97 536.66) rotate(-90)" font-size="10.15" text-anchor="middle">10</text>
<line x1="249.27" y1="469.58" x2="255.87" y2="469.58" stroke="#000" stroke-width="1"/>
<text transform="translate(241.97 469.58) rotate(-90)" font-size="10.15" text-anchor="middle">20</text>
<line x1="249.27" y1="402.50" x2="255.87" y2="402.50" stroke="#000" stroke-width="1"/>
<text transform="translate(241.97 402.50) rotate(-90)" font-size="10.15" text-anchor="middle">30</text>
<line x1="249.27" y1="335.42" x2="255.87" y2="335.42" stroke="#000" stroke-width="1"/>
<text transform="translate(241.97 335.42) rotate(-90)" font-size="10.15" text-anchor="middle">40</text>
<line x1="249.27" y1="268.34" x2="255.87" y2="268.34" stroke="#000" stroke-width="1"/>
<text transform="translate(241.97 268.34) rotate(-90)" font-size="10.15" text-anchor="middle">50</text>
<line x1="249.27" y1="201.26" x2="255.87" y2="201.26" stroke="#000" stroke-width="1"/>
<text transform="translate(241.97 201.26) rotate(-90)" font-size="10.15" text-anchor="middle">60</text>
<line x1="249.27" y1="134.18" x2="255.87" y2="134.18" stroke="#000" stroke-width="1"/>
<text transform="translate(241.97 134.18) rotate(-90)" font-size="10.15" text-anchor="middle">70</text>
<line x1="249.27" y1="67.10" x2="255.87" y2="67.10" stroke="#000" stroke-width="1"/>
<text transform="translate(241.97 67.10) rotate(-90)" font-size="10.15" text-anchor="middle">80</text>
<text x="323.32" y="608.1" font-size="14.8" text-anchor="middle">age</text>
<text transform="translate(218.37 305.60) rotate(-90)" font-size="14.8" text-anchor="middle">Weight (kg)</text>
<text x="323.32" y="29.1" font-size="14.8" font-weight="bold" text-anchor="middle">50th Percentile</text>
<rect x="255.87" y="48.00" width="71" height="70.4" fill="#fff" stroke="#000" stroke-width="1"/>
<rect x="264.27" y="56.70" width="7.6" height="5.8" fill="#ff0000" stroke="#000" stroke-width="1"/>
<text x="281.07" y="63.40" font-size="9.75">CDC</text>
<rect x="264.27" y="68.47" width="7.6" height="5.8" fill="#ffa500" stroke="#000" stroke-width="1"/>
<text x="281.07" y="75.17" font-size="9.75">NH99−02</text>
<rect x="264.27" y="80.24" width="7.6" height="5.8" fill="#ffc0cb" stroke="#000" stroke-width="1"/>
<text x="281.07" y="86.94" font-size="9.75">NH03−06</text>
<rect x="264.27" y="92.01" width="7.6" height="5.8" fill="#a020f0" stroke="#000" stroke-width="1"/>
<text x="281.07" y="98.71" font-size="9.75">NH07−10</text>
<rect x="264.27" y="103.78" width="7.6" height="5.8" fill="#000000" stroke="#000" stroke-width="1"/>
<text x="281.07" y="110.48" font-size="9.75">NS−EDW</text>
</g>
<g>
<path d="M470.3 514.3 L471.2 512.9 L472.0 511.5 L472.8 510.2 L473.7 508.8 L474.5 507.4 L475.4 506.0 L476.2 504.7 L477.0 503.3 L477.8 501.9 L478.7 500.5 L479.5 499.1 L480.3 497.7 L481.1 496.3 L481.9 494.9 L482.8 493.5 L483.6 492.1 L484.4 490.7 L485.2 489.3 L485.9 487.9 L486.7 486.5 L487.5 485.0 L488.3 483.6 L489.0 482.2 L489.8 480.8 L490.6 479.3 L491.3 477.9 L492.0 476.5 L492.8 475.0 L493.5 473.6 L494.2 472.2 L494.9 470.7 L495.6 469.3 L496.3 467.8 L496.9 466.4 L497.6 464.9 L498.3 463.5 L498.9 462.0 L499.6 460.6 L500.2 459.1 L500.8 457.7 L501.5 456.2 L502.1 454.7 L502.7 453.3 L503.3 451.8 L503.9 450.3 L504.5 448.8 L505.1 447.4 L505.7 445.9 L506.3 444.4 L506.9 442.9 L507.5 441.4 L508.1 440.0 L508.7 438.5 L509.3 437.0 L509.9 435.5 L510.5 434.0 L511.1 432.5 L511.7 431.0 L512.2 429.5 L512.8 428.0 L513.4 426.5 L513.9 425.0 L514.4 423.5 L515.0 422.0 L515.5 420.5 L516.0 419.0 L516.5 417.5 L517.0 415.9 L517.5 414.4 L517.9 412.9 L518.4 411.4 L518.9 409.9 L519.3 408.4 L519.8 406.8 L520.2 405.3 L520.6 403.8 L521.1 402.3 L521.5 400.7 L521.9 399.2 L522.4 397.7 L522.8 396.1 L523.2 394.6 L523.6 393.1 L524.1 391.5 L524.5 390.0 L524.9 388.5 L525.3 386.9 L525.8 385.4 L526.2 383.8 L526.6 382.3 L527.0 380.8 L527.4 379.2 L527.9 377.7 L528.3 376.1 L528.7 374.6 L529.1 373.0 L529.5 371.5 L529.9 369.9 L530.3 368.4 L530.7 366.8 L531.0 365.3 L531.4 363.7 L531.8 362.2 L532.2 360.6 L532.6 359.1 L532.9 357.5 L533.3 356.0 L533.7 354.4 L534.1 352.8 L534.4 351.3 L534.8 349.7 L535.2 348.2 L535.6 346.6 L535.9 345.1 L536.3 343.5 L536.7 341.9 L537.1 340.4 L537.5 338.8 L537.8 337.3 L538.2 335.7 L538.6 334.1 L539.0 332.6 L539.4 331.0 L539.8 329.5 L540.2 327.9 L540.6 326.3 L541.0 324.8 L541.4 323.2 L541.8 321.7 L542.2 320.1 L542.6 318.5 L543.0 317.0 L543.4 315.4 L543.8 313.9 L544.2 312.3 L544.6 310.7 L545.0 309.2 L545.4 307.6 L545.8 306.1 L546.2 304.5 L546.6 302.9 L547.0 301.4 L547.4 299.8 L547.8 298.3 L548.2 296.7 L548.6 295.2 L549.0 293.6 L549.5 292.1 L549.9 290.5 L550.3 289.0 L550.7 287.4 L551.1 285.8 L551.5 284.3 L551.9 282.7 L552.3 281.2 L552.7 279.7 L553.2 278.1 L553.6 276.6 L554.0 275.0 L554.4 273.5 L554.9 271.9 L555.3 270.4 L555.7 268.9 L556.2 267.3 L556.6 265.8 L557.0 264.2 L557.5 262.7 L557.9 261.2 L558.4 259.7 L558.9 258.1 L559.3 256.6 L559.8 255.1 L560.3 253.6 L560.7 252.0 L561.2 250.5 L561.7 249.0 L562.2 247.5 L562.7 246.0 L563.2 244.5 L563.7 243.0 L564.3 241.5 L564.8 239.9 L565.3 238.4 L565.9 237.0 L566.4 235.5 L567.0 234.0 L567.5 232.5 L568.1 231.0 L568.7 229.5 L569.2 228.0 L569.8 226.5 L570.4 225.1 L571.1 223.6 L571.7 222.1 L572.3 220.7 L572.9 219.2 L573.6 217.7 L574.2 216.3 L574.9 214.8 L575.6 213.4 L576.3 211.9 L577.0 210.5 L577.7 209.0 L578.4 207.6 L579.1 206.2 L579.9 204.7 L580.6 203.3 L581.4 201.9 L582.2 200.5 L583.0 199.1 L583.8 197.8 L584.7 196.4 L585.6 195.1 L586.5 193.8 L587.5 192.5 L588.5 191.2 L589.5 190.0 L590.5 188.8 L591.6 187.7" fill="none" stroke="#ff0000" stroke-width="2" stroke-linecap="round" stroke-linejoin="round"/>
<path d="M470.4 514.3 L471.0 512.5 L471.6 510.7 L472.3 508.9 L472.9 507.1 L473.5 505.2 L474.2 503.4 L474.8 501.6 L475.4 499.8 L476.0 498.0 L476.7 496.2 L477.3 494.4 L477.9 492.5 L478.5 490.7 L479.2 488.9 L479.8 487.1 L480.4 485.3 L481.0 483.4 L481.6 481.6 L482.3 479.8 L482.9 478.0 L483.5 476.1 L484.2 474.3 L484.8 472.5 L485.4 470.6 L486.1 468.8 L486.7 467.0 L487.3 465.1 L488.0 463.3 L488.6 461.5 L489.2 459.6 L489.9 457.8 L490.5 456.0 L491.2 454.1 L491.8 452.3 L492.4 450.4 L493.1 448.6 L493.7 446.8 L494.3 444.9 L494.9 443.1 L495.6 441.2 L496.2 439.4 L496.8 437.5 L497.4 435.7 L498.0 433.8 L498.6 432.0 L499.2 430.1 L499.8 428.3 L500.4 426.4 L501.0 424.6 L501.6 422.7 L502.2 420.9 L502.7 419.0 L503.3 417.2 L503.9 415.3 L504.4 413.4 L504.9 411.6 L505.5 409.7 L506.0 407.9 L506.5 406.0 L507.1 404.1 L507.6 402.3 L508.1 400.4 L508.6 398.6 L509.1 396.7 L509.6 394.8 L510.1 393.0 L510.6 391.1 L511.1 389.2 L511.5 387.4 L512.0 385.5 L512.5 383.6 L512.9 381.8 L513.4 379.9 L513.9 378.0 L514.3 376.1 L514.8 374.3 L515.2 372.4 L515.7 370.5 L516.1 368.7 L516.6 366.8 L517.0 364.9 L517.5 363.0 L517.9 361.2 L518.3 359.3 L518.8 357.4 L519.2 355.5 L519.6 353.6 L520.0 351.8 L520.5 349.9 L520.9 348.0 L521.3 346.1 L521.7 344.2 L522.1 342.4 L522.5 340.5 L523.0 338.6 L523.4 336.7 L523.8 334.8 L524.2 333.0 L524.6 331.1 L525.0 329.2 L525.4 327.3 L525.8 325.4 L526.2 323.5 L526.6 321.7 L527.0 319.8 L527.4 317.9 L527.8 316.0 L528.2 314.1 L528.5 312.2 L528.9 310.3 L529.3 308.4 L529.7 306.6 L530.1 304.7 L530.5 302.8 L530.9 300.9 L531.2 299.0 L531.6 297.1 L532.0 295.2 L532.4 293.3 L532.8 291.4 L533.1 289.5 L533.5 287.7 L533.9 285.8 L534.3 283.9 L534.6 282.0 L535.0 280.1 L535.4 278.2 L535.8 276.3 L536.1 274.4 L536.5 272.5 L536.9 270.6 L537.3 268.7 L537.6 266.8 L538.0 264.9 L538.4 263.0 L538.7 261.1 L539.1 259.3 L539.5 257.4 L539.9 255.5 L540.2 253.6 L540.6 251.7 L541.0 249.8 L541.3 247.9 L541.7 246.0 L542.1 244.1 L542.5 242.2 L542.8 240.3 L543.2 238.4 L543.6 236.5 L544.0 234.6 L544.3 232.7 L544.7 230.8 L545.1 228.9 L545.5 227.0 L545.8 225.1 L546.2 223.2 L546.6 221.3 L547.0 219.4 L547.3 217.5 L547.7 215.7 L548.1 213.8 L548.5 211.9 L548.9 210.0 L549.3 208.1 L549.6 206.2 L550.0 204.3 L550.4 202.4 L550.8 200.5 L551.2 198.6 L551.6 196.7 L552.0 194.8 L552.4 192.9 L552.8 191.0 L553.2 189.1 L553.6 187.2 L554.0 185.3 L554.4 183.4 L554.8 181.5 L555.2 179.6 L555.6 177.8 L556.0 175.9 L556.4 174.0 L556.8 172.1 L557.2 170.2 L557.6 168.3 L558.0 166.4 L558.4 164.5 L558.8 162.7 L559.3 160.8 L559.7 158.9 L560.1 157.0 L560.5 155.2 L560.9 153.3 L561.3 151.4 L561.8 149.5 L562.3 147.7 L562.8 145.8 L563.3 143.9 L563.9 142.1 L564.6 140.2 L565.3 138.4 L566.0 136.5 L566.8 134.7 L567.7 133.0 L568.7 131.3 L569.8 129.7 L571.0 128.2 L572.3 126.8 L573.7 125.6 L575.2 124.6 L576.9 123.8 L578.6 123.3 L580.5 123.2 L582.4 123.4 L584.3 123.8 L586.2 124.2 L588.2 124.5 L590.2 124.5 L592.1 124.2" fill="none" stroke="#ffa500" stroke-width="2" stroke-linecap="round" stroke-linejoin="round"/>
<path d="M470.1 516.6 L470.7 514.7 L471.4 512.7 L472.1 510.8 L472.8 508.9 L473.5 507.0 L474.2 505.1 L474.9 503.1 L475.6 501.2 L476.3 499.3 L477.1 497.4 L477.8 495.4 L478.5 493.5 L479.2 491.6 L480.0 489.6 L480.7 487.7 L481.4 485.8 L482.1 483.9 L482.8 481.9 L483.5 480.0 L484.1 478.1 L484.8 476.1 L485.4 474.2 L486.0 472.2 L486.6 470.3 L487.2 468.4 L487.8 466.4 L488.3 464.5 L488.9 462.6 L489.4 460.6 L489.9 458.7 L490.4 456.7 L490.9 454.8 L491.3 452.8 L491.8 450.9 L492.3 448.9 L492.8 447.0 L493.3 445.0 L493.7 443.1 L494.2 441.1 L494.7 439.2 L495.3 437.2 L495.8 435.3 L496.3 433.3 L496.8 431.4 L497.3 429.4 L497.9 427.5 L498.4 425.5 L499.0 423.6 L499.5 421.6 L500.1 419.7 L500.6 417.7 L501.2 415.7 L501.7 413.8 L502.3 411.8 L502.9 409.9 L503.4 407.9 L504.0 405.9 L504.6 404.0 L505.1 402.0 L505.7 400.0 L506.2 398.1 L506.8 396.1 L507.3 394.1 L507.9 392.2 L508.4 390.2 L508.9 388.2 L509.5 386.3 L510.0 384.3 L510.5 382.3 L511.0 380.4 L511.5 378.4 L512.0 376.4 L512.5 374.4 L513.0 372.5 L513.5 370.5 L513.9 368.5 L514.4 366.5 L514.9 364.6 L515.3 362.6 L515.8 360.6 L516.2 358.6 L516.7 356.7 L517.1 354.7 L517.6 352.7 L518.0 350.7 L518.5 348.7 L518.9 346.8 L519.3 344.8 L519.7 342.8 L520.2 340.8 L520.6 338.8 L521.0 336.8 L521.4 334.8 L521.8 332.9 L522.2 330.9 L522.6 328.9 L523.0 326.9 L523.4 324.9 L523.8 322.9 L524.2 320.9 L524.6 318.9 L525.0 317.0 L525.4 315.0 L525.7 313.0 L526.1 311.0 L526.5 309.0 L526.9 307.0 L527.3 305.0 L527.6 303.0 L528.0 301.0 L528.4 299.0 L528.7 297.0 L529.1 295.0 L529.5 293.0 L529.8 291.0 L530.2 289.0 L530.6 287.0 L530.9 285.0 L531.3 283.0 L531.7 281.0 L532.0 279.0 L532.4 277.0 L532.8 275.0 L533.1 273.0 L533.5 271.0 L533.9 269.0 L534.2 267.0 L534.6 265.0 L534.9 263.0 L535.3 261.0 L535.7 259.0 L536.0 257.0 L536.4 255.0 L536.8 253.0 L537.1 251.0 L537.5 249.0 L537.9 247.0 L538.3 245.0 L538.6 243.0 L539.0 241.0 L539.4 239.0 L539.8 236.9 L540.1 234.9 L540.5 232.9 L540.9 230.9 L541.3 228.9 L541.7 226.9 L542.0 224.9 L542.4 222.9 L542.8 220.9 L543.2 218.9 L543.5 216.9 L543.9 214.9 L544.3 212.9 L544.6 210.8 L545.0 208.8 L545.4 206.8 L545.7 204.8 L546.1 202.8 L546.4 200.8 L546.8 198.8 L547.1 196.8 L547.5 194.8 L547.8 192.8 L548.2 190.8 L548.5 188.8 L548.8 186.8 L549.2 184.9 L549.5 182.9 L549.8 180.9 L550.2 178.9 L550.5 176.9 L550.9 174.9 L551.2 172.9 L551.6 170.9 L552.0 169.0 L552.3 167.0 L552.7 165.0 L553.1 163.0 L553.5 161.1 L554.0 159.1 L554.4 157.1 L554.9 155.2 L555.3 153.2 L555.8 151.2 L556.3 149.3 L556.8 147.3 L557.4 145.4 L557.9 143.4 L558.5 141.5 L559.2 139.5 L559.8 137.6 L560.5 135.7 L561.2 133.8 L562.0 132.0 L562.8 130.1 L563.7 128.3 L564.6 126.5 L565.6 124.7 L566.6 123.0 L567.7 121.3 L568.9 119.6 L570.1 118.0 L571.4 116.4 L572.7 114.8 L574.1 113.2 L575.5 111.7 L576.9 110.2 L578.4 108.7 L579.8 107.2 L581.3 105.8 L582.7 104.3 L584.2 102.8 L585.6 101.3 L586.9 99.9 L588.3 98.4 L589.6 96.9 L590.8 95.4 L592.1 93.8" fill="none" stroke="#ffc0cb" stroke-width="2" stroke-linecap="round" stroke-linejoin="round"/>
<path d="M470.4 513.8 L471.0 511.8 L471.7 509.9 L472.3 507.9 L473.0 505.9 L473.6 504.0 L474.3 502.0 L474.9 500.1 L475.5 498.1 L476.2 496.1 L476.8 494.2 L477.5 492.2 L478.1 490.2 L478.8 488.3 L479.4 486.3 L480.1 484.3 L480.7 482.4 L481.4 480.4 L482.0 478.4 L482.7 476.5 L483.4 474.5 L484.0 472.5 L484.7 470.5 L485.4 468.5 L486.0 466.6 L486.7 464.6 L487.4 462.6 L488.1 460.6 L488.7 458.6 L489.4 456.7 L490.1 454.7 L490.8 452.7 L491.5 450.7 L492.1 448.7 L492.8 446.7 L493.5 444.7 L494.2 442.7 L494.8 440.7 L495.5 438.8 L496.2 436.8 L496.9 434.8 L497.5 432.8 L498.2 430.8 L498.8 428.8 L499.5 426.8 L500.1 424.8 L500.7 422.8 L501.4 420.8 L502.0 418.8 L502.6 416.8 L503.2 414.8 L503.8 412.8 L504.4 410.8 L505.0 408.8 L505.6 406.8 L506.2 404.7 L506.7 402.7 L507.3 400.7 L507.9 398.7 L508.4 396.7 L509.0 394.7 L509.5 392.7 L510.0 390.7 L510.6 388.7 L511.1 386.6 L511.6 384.6 L512.1 382.6 L512.6 380.6 L513.1 378.6 L513.6 376.6 L514.1 374.5 L514.6 372.5 L515.1 370.5 L515.6 368.5 L516.1 366.5 L516.5 364.4 L517.0 362.4 L517.4 360.4 L517.9 358.4 L518.4 356.4 L518.8 354.3 L519.3 352.3 L519.7 350.3 L520.1 348.2 L520.6 346.2 L521.0 344.2 L521.4 342.2 L521.8 340.1 L522.3 338.1 L522.7 336.1 L523.1 334.0 L523.5 332.0 L523.9 330.0 L524.3 327.9 L524.7 325.9 L525.1 323.9 L525.5 321.8 L525.9 319.8 L526.3 317.8 L526.7 315.7 L527.1 313.7 L527.5 311.7 L527.9 309.6 L528.3 307.6 L528.6 305.5 L529.0 303.5 L529.4 301.5 L529.8 299.4 L530.2 297.4 L530.5 295.3 L530.9 293.3 L531.3 291.3 L531.7 289.2 L532.1 287.2 L532.4 285.1 L532.8 283.1 L533.2 281.0 L533.6 279.0 L533.9 277.0 L534.3 274.9 L534.7 272.9 L535.1 270.8 L535.4 268.8 L535.8 266.7 L536.2 264.7 L536.6 262.6 L536.9 260.6 L537.3 258.5 L537.7 256.5 L538.1 254.4 L538.4 252.4 L538.8 250.3 L539.2 248.3 L539.6 246.2 L540.0 244.2 L540.3 242.1 L540.7 240.1 L541.1 238.0 L541.5 236.0 L541.9 233.9 L542.2 231.9 L542.6 229.8 L543.0 227.8 L543.4 225.7 L543.7 223.7 L544.1 221.6 L544.5 219.6 L544.9 217.5 L545.2 215.5 L545.6 213.4 L546.0 211.4 L546.4 209.3 L546.7 207.2 L547.1 205.2 L547.5 203.1 L547.8 201.1 L548.2 199.0 L548.6 197.0 L548.9 194.9 L549.3 192.9 L549.7 190.8 L550.0 188.7 L550.4 186.7 L550.8 184.6 L551.1 182.6 L551.5 180.5 L551.9 178.5 L552.3 176.4 L552.6 174.4 L553.0 172.3 L553.4 170.3 L553.8 168.2 L554.2 166.2 L554.6 164.1 L555.0 162.1 L555.4 160.1 L555.8 158.0 L556.3 156.0 L556.7 153.9 L557.2 151.9 L557.6 149.9 L558.1 147.9 L558.5 145.8 L559.0 143.8 L559.5 141.8 L560.0 139.8 L560.5 137.8 L561.1 135.8 L561.6 133.8 L562.2 131.7 L562.7 129.8 L563.3 127.8 L563.9 125.8 L564.5 123.8 L565.1 121.8 L565.8 119.8 L566.4 117.8 L567.1 115.9 L567.8 113.9 L568.5 112.0 L569.3 110.0 L570.0 108.1 L570.8 106.1 L571.6 104.2 L572.4 102.2 L573.2 100.3 L574.1 98.4 L575.0 96.6 L575.9 94.7 L577.0 92.9 L578.0 91.2 L579.2 89.5 L580.4 87.9 L581.7 86.3 L583.2 84.8 L584.7 83.4 L586.3 82.1 L588.0 80.9 L589.8 79.8 L591.7 78.8" fill="none" stroke="#a020f0" stroke-width="2" stroke-linecap="round" stroke-linejoin="round"/>
<path d="M470.3 513.8 L471.1 512.0 L472.0 510.1 L472.9 508.2 L473.7 506.3 L474.6 504.4 L475.5 502.5 L476.3 500.6 L477.2 498.7 L478.0 496.8 L478.9 494.9 L479.7 493.0 L480.5 491.1 L481.3 489.2 L482.2 487.3 L483.0 485.4 L483.8 483.5 L484.5 481.6 L485.3 479.6 L486.1 477.7 L486.8 475.8 L487.5 473.9 L488.2 471.9 L488.9 470.0 L489.6 468.1 L490.3 466.2 L490.9 464.2 L491.5 462.3 L492.2 460.4 L492.8 458.4 L493.4 456.5 L494.0 454.5 L494.6 452.6 L495.2 450.6 L495.8 448.7 L496.4 446.7 L497.0 444.8 L497.7 442.8 L498.3 440.9 L498.9 438.9 L499.6 437.0 L500.2 435.0 L500.9 433.1 L501.5 431.1 L502.2 429.1 L502.8 427.2 L503.4 425.2 L504.0 423.2 L504.7 421.3 L505.3 419.3 L505.9 417.3 L506.4 415.4 L507.0 413.4 L507.6 411.4 L508.1 409.4 L508.7 407.5 L509.2 405.5 L509.8 403.5 L510.3 401.5 L510.8 399.5 L511.3 397.6 L511.8 395.6 L512.3 393.6 L512.9 391.6 L513.4 389.6 L513.8 387.6 L514.3 385.6 L514.8 383.6 L515.3 381.6 L515.8 379.7 L516.3 377.7 L516.8 375.7 L517.2 373.7 L517.7 371.7 L518.2 369.7 L518.6 367.7 L519.1 365.7 L519.6 363.7 L520.0 361.7 L520.5 359.7 L520.9 357.7 L521.4 355.7 L521.8 353.7 L522.3 351.7 L522.7 349.7 L523.1 347.7 L523.6 345.7 L524.0 343.6 L524.5 341.6 L524.9 339.6 L525.3 337.6 L525.8 335.6 L526.2 333.6 L526.6 331.6 L527.0 329.6 L527.5 327.6 L527.9 325.6 L528.3 323.5 L528.7 321.5 L529.1 319.5 L529.6 317.5 L530.0 315.5 L530.4 313.5 L530.8 311.5 L531.2 309.5 L531.6 307.4 L532.0 305.4 L532.5 303.4 L532.9 301.4 L533.3 299.4 L533.7 297.4 L534.1 295.4 L534.5 293.3 L534.9 291.3 L535.3 289.3 L535.7 287.3 L536.2 285.3 L536.6 283.3 L537.0 281.2 L537.4 279.2 L537.8 277.2 L538.2 275.2 L538.6 273.2 L539.0 271.2 L539.4 269.1 L539.9 267.1 L540.3 265.1 L540.7 263.1 L541.1 261.1 L541.5 259.1 L541.9 257.1 L542.4 255.0 L542.8 253.0 L543.2 251.0 L543.6 249.0 L544.1 247.0 L544.5 245.0 L544.9 243.0 L545.3 241.0 L545.8 238.9 L546.2 236.9 L546.6 234.9 L547.1 232.9 L547.5 230.9 L548.0 228.9 L548.4 226.9 L548.9 224.9 L549.3 222.9 L549.8 220.9 L550.2 218.9 L550.7 216.9 L551.1 214.9 L551.6 212.9 L552.1 210.9 L552.5 208.9 L553.0 206.8 L553.5 204.8 L554.0 202.8 L554.5 200.9 L555.0 198.9 L555.4 196.9 L555.9 194.9 L556.5 192.9 L557.0 190.9 L557.5 188.9 L558.0 186.9 L558.5 184.9 L559.0 182.9 L559.6 180.9 L560.1 178.9 L560.7 176.9 L561.2 174.9 L561.8 173.0 L562.3 171.0 L562.9 169.0 L563.5 167.0 L564.1 165.0 L564.6 163.1 L565.2 161.1 L565.8 159.1 L566.4 157.1 L567.0 155.1 L567.6 153.2 L568.2 151.2 L568.8 149.2 L569.5 147.3 L570.1 145.3 L570.7 143.3 L571.3 141.4 L571.9 139.4 L572.6 137.4 L573.2 135.5 L573.8 133.5 L574.4 131.6 L575.1 129.6 L575.7 127.6 L576.3 125.7 L576.9 123.7 L577.6 121.8 L578.2 119.8 L578.8 117.9 L579.5 115.9 L580.1 114.0 L580.7 112.1 L581.4 110.1 L582.0 108.2 L582.7 106.2 L583.3 104.3 L584.0 102.4 L584.7 100.4 L585.3 98.5 L586.0 96.6 L586.7 94.7 L587.4 92.7 L588.1 90.8 L588.8 88.9 L589.6 87.0 L590.3 85.1 L591.0 83.2 L591.8 81.2" fill="none" stroke="#000000" stroke-width="2" stroke-linecap="round" stroke-linejoin="round"/>
<rect x="463.53" y="48.00" width="134.90" height="515.20" fill="none" stroke="#000" stroke-width="1.3"/>
<line x1="489.35" y1="563.20" x2="489.35" y2="569.60" stroke="#000" stroke-width="1"/>
<text x="489.35" y="584.8" font-size="10.15" text-anchor="middle">5</text>
<line x1="524.04" y1="563.20" x2="524.04" y2="569.60" stroke="#000" stroke-width="1"/>
<text x="524.04" y="584.8" font-size="10.15" text-anchor="middle">10</text>
<line x1="558.74" y1="563.20" x2="558.74" y2="569.60" stroke="#000" stroke-width="1"/>
<text x="558.74" y="584.8" font-size="10.15" text-anchor="middle">15</text>
<line x1="593.44" y1="563.20" x2="593.44" y2="569.60" stroke="#000" stroke-width="1"/>
<text x="593.44" y="584.8" font-size="10.15" text-anchor="middle">20</text>
<line x1="456.93" y1="502.08" x2="463.53" y2="502.08" stroke="#000" stroke-width="1"/>
<text transform="translate(449.63 502.08) rotate(-90)" font-size="10.15" text-anchor="middle">20</text>
<line x1="456.93" y1="426.40" x2="463.53" y2="426.40" stroke="#000" stroke-width="1"/>
<text transform="translate(449.63 426.40) rotate(-90)" font-size="10.15" text-anchor="middle">40</text>
<line x1="456.93" y1="350.72" x2="463.53" y2="350.72" stroke="#000" stroke-width="1"/>
<text transform="translate(449.63 350.72) rotate(-90)" font-size="10.15" text-anchor="middle">60</text>
<line x1="456.93" y1="275.04" x2="463.53" y2="275.04" stroke="#000" stroke-width="1"/>
<text transform="translate(449.63 275.04) rotate(-90)" font-size="10.15" text-anchor="middle">80</text>
<line x1="456.93" y1="199.36" x2="463.53" y2="199.36" stroke="#000" stroke-width="1"/>
<text transform="translate(449.63 199.36) rotate(-90)" font-size="10.15" text-anchor="middle">100</text>
<line x1="456.93" y1="123.68" x2="463.53" y2="123.68" stroke="#000" stroke-width="1"/>
<text transform="translate(449.63 123.68) rotate(-90)" font-size="10.15" text-anchor="middle">120</text>
<line x1="456.93" y1="48.00" x2="463.53" y2="48.00" stroke="#000" stroke-width="1"/>
<text transform="translate(449.63 48.00) rotate(-90)" font-size="10.15" text-anchor="middle">140</text>
<text x="530.98" y="608.1" font-size="14.8" text-anchor="middle">age</text>
<text transform="translate(426.03 305.60) rotate(-90)" font-size="14.8" text-anchor="middle">Weight (kg)</text>
<text x="530.98" y="29.1" font-size="14.8" font-weight="bold" text-anchor="middle">97th Percentile</text>
<rect x="463.53" y="48.00" width="71" height="70.4" fill="#fff" stroke="#000" stroke-width="1"/>
<rect x="471.93" y="56.70" width="7.6" height="5.8" fill="#ff0000" stroke="#000" stroke-width="1"/>
<text x="488.73" y="63.40" font-size="9.75">CDC</text>
<rect x="471.93" y="68.47" width="7.6" height="5.8" fill="#ffa500" stroke="#000" stroke-width="1"/>
<text x="488.73" y="75.17" font-size="9.75">NH99−02</text>
<rect x="471.93" y="80.24" width="7.6" height="5.8" fill="#ffc0cb" stroke="#000" stroke-width="1"/>
<text x="488.73" y="86.94" font-size="9.75">NH03−06</text>
<rect x="471.93" y="92.01" width="7.6" height="5.8" fill="#a020f0" stroke="#000" stroke-width="1"/>
<text x="488.73" y="98.71" font-size="9.75">NH07−10</text>
<rect x="471.93" y="103.78" width="7.6" height="5.8" fill="#000000" stroke="#000" stroke-width="1"/>
<text x="488.73" y="110.48" font-size="9.75">NS−EDW</text>
</g>
</svg></body></html>
